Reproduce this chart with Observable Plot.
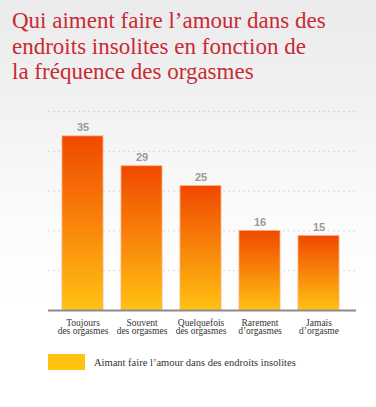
<!DOCTYPE html>
<html><head><meta charset="utf-8">
<script src="https://cdn.jsdelivr.net/npm/d3@7"></script>
<script src="https://cdn.jsdelivr.net/npm/@observablehq/plot@0.6"></script>
<style>
html,body{margin:0;padding:0;width:376px;height:407px;overflow:hidden;}
body{background:linear-gradient(#ebebeb 0px,#f2f2f2 110px,#fcfcfc 230px,#fff 300px);position:relative;font-family:"Liberation Serif",serif;}
#title{position:absolute;left:12px;top:8px;font-size:23px;line-height:25.5px;color:#c92a35;width:363px;white-space:nowrap;}
#chart{position:absolute;left:0;top:95px;}
#legend{position:absolute;left:48px;top:354px;display:flex;align-items:center;}
.sw{width:37px;height:16px;background:#ffc20e;}
.lt{margin-left:9px;font-size:10.5px;color:#333;}
</style></head><body>
<div id="title">Qui aiment faire l’amour dans des<br>endroits insolites en fonction de<br>la fréquence des orgasmes</div>
<div id="chart"></div>
<div id="legend"><div class="sw"></div><div class="lt" id="lt"></div></div>
<script>
const categories = ["Toujours des orgasmes", "Souvent des orgasmes", "Quelquefois des orgasmes", "Rarement d’orgasmes", "Jamais d’orgasme"];
const tickLabels = ["Toujours\ndes orgasmes", "Souvent\ndes orgasmes", "Quelquefois\ndes orgasmes", "Rarement\nd’orgasmes", "Jamais\nd’orgasme"];
const values = [35, 29, 25, 16, 15];
const gridTicks = [8, 16, 24, 32, 40];
const seriesName = "Aimant faire l’amour dans des endroits insolites";

document.getElementById("lt").textContent = seriesName;

const data = categories.map((c, i) => ({cat: c, v: values[i], label: tickLabels[i]}));

const defs = () => {
  const d = d3.create("svg:defs");
  const g = d.append("linearGradient").attr("id", "barGrad")
    .attr("x1", 0).attr("y1", 0).attr("x2", 0).attr("y2", 1);
  g.append("stop").attr("offset", "0%").attr("stop-color", "#f04800");
  g.append("stop").attr("offset", "50%").attr("stop-color", "#f8840a");
  g.append("stop").attr("offset", "100%").attr("stop-color", "#ffc212");
  return d.node();
};

const chart = Plot.plot({
  width: 376, height: 250,
  marginLeft: 48, marginRight: 20, marginTop: 10, marginBottom: 30,
  style: {background: "transparent", overflow: "visible"},
  x: {domain: categories, range: [61, 340], paddingInner: 0.3, paddingOuter: 0, axis: null},
  y: {domain: [0, 40], range: [215, 16], axis: null},
  marks: [
    defs,
    Plot.ruleY(gridTicks, {stroke: "#d6d6d6", strokeDasharray: "2,3"}),
    Plot.barY(data, {x: "cat", y: "v", fill: "url(#barGrad)", stroke: "#ffb07a", strokeWidth: 0.8}),
    Plot.ruleY([0], {stroke: "#8c8c8c", strokeWidth: 2}),
    Plot.text(data, {x: "cat", y: "v", text: d => String(d.v), lineAnchor: "bottom", dy: -5,
      fill: "#9a9a9a", fontWeight: "bold", fontSize: 11, fontFamily: "Liberation Sans"}),
    Plot.text(data, {x: "cat", y: () => 0, text: "label", lineAnchor: "top", dy: 9, lineHeight: 0.92,
      fill: "#333", fontSize: 9.5, fontFamily: "Liberation Serif"})
  ]
});
document.getElementById("chart").appendChild(chart);
</script>
</body></html>
